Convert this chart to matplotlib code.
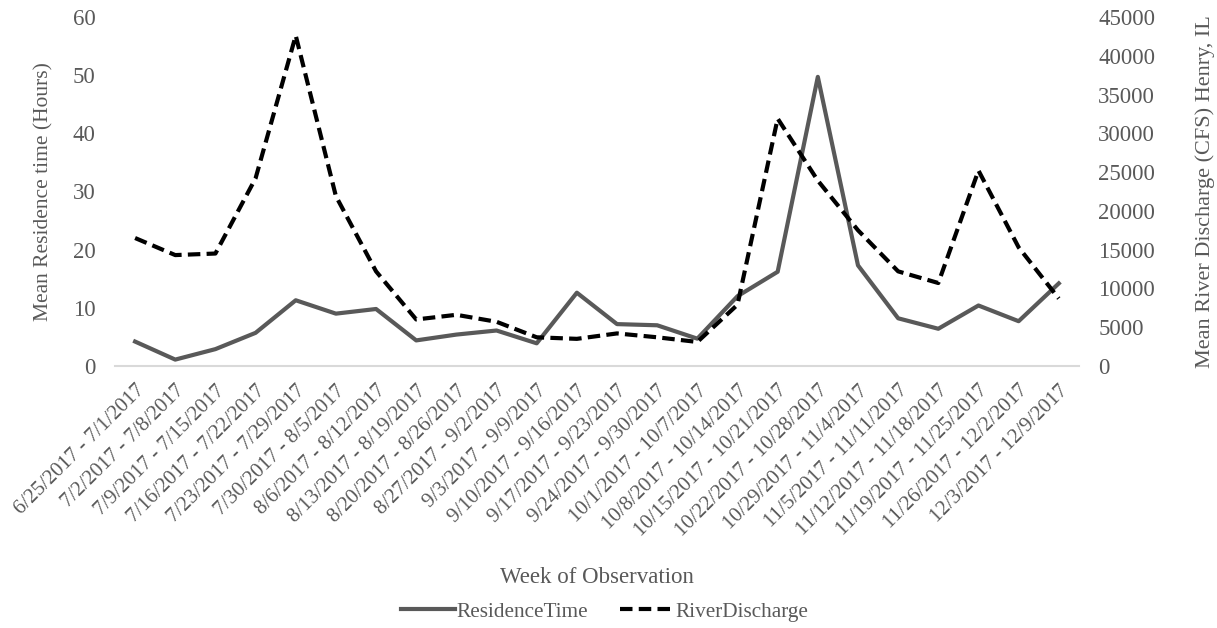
import matplotlib.pyplot as plt
import numpy as np

weeks = ['6/25/2017 - 7/1/2017', '7/2/2017 - 7/8/2017', '7/9/2017 - 7/15/2017',
         '7/16/2017 - 7/22/2017', '7/23/2017 - 7/29/2017', '7/30/2017 - 8/5/2017',
         '8/6/2017 - 8/12/2017', '8/13/2017 - 8/19/2017', '8/20/2017 - 8/26/2017',
         '8/27/2017 - 9/2/2017', '9/3/2017 - 9/9/2017', '9/10/2017 - 9/16/2017',
         '9/17/2017 - 9/23/2017', '9/24/2017 - 9/30/2017', '10/1/2017 - 10/7/2017',
         '10/8/2017 - 10/14/2017', '10/15/2017 - 10/21/2017', '10/22/2017 - 10/28/2017',
         '10/29/2017 - 11/4/2017', '11/5/2017 - 11/11/2017', '11/12/2017 - 11/18/2017',
         '11/19/2017 - 11/25/2017', '11/26/2017 - 12/2/2017', '12/3/2017 - 12/9/2017']

residence_time = [4.2, 1.1, 2.9, 5.7, 11.3, 9.0, 9.8, 4.4, 5.4, 6.1, 3.9, 12.6,
                  7.2, 7.0, 4.7, 12.0, 16.2, 49.7, 17.3, 8.2, 6.4, 10.4, 7.7, 14.2]
river_discharge = [16500, 14300, 14500, 24200, 42600, 21900, 12200, 6000, 6600, 5700,
                   3700, 3500, 4200, 3700, 3100, 7900, 31900, 23900, 17500, 12200,
                   10700, 25200, 15300, 8700]

gray = '#595959'
plt.rcParams['font.family'] = ['Liberation Serif', 'DejaVu Serif']

fig = plt.figure(figsize=(12.17, 6.28), dpi=100)
ax = fig.add_axes([0.0945, 0.4172, 0.792, 0.5558])
ax2 = ax.twinx()

x = np.arange(len(weeks))
l1, = ax.plot(x, residence_time, color=gray, linewidth=3, label='ResidenceTime')
l2, = ax2.plot(x, river_discharge, color='black', linewidth=3, linestyle=(0, (3, 1.5)),
               label='RiverDischarge')

ax.set_xlim(-0.5, len(weeks) - 0.5)
ax.set_ylim(0, 60)
ax2.set_ylim(0, 45000)
ax.set_yticks(range(0, 61, 10))
ax2.set_yticks(range(0, 45001, 5000))

ax.set_xticks(x)
ax.set_xticklabels(weeks, rotation=45, ha='right', rotation_mode='anchor')

for a in (ax, ax2):
    for s in a.spines.values():
        s.set_visible(False)
    a.tick_params(length=0, colors=gray, labelsize=16.5)
ax.spines['bottom'].set_visible(True)
ax.spines['bottom'].set_color('#d9d9d9')
ax.spines['bottom'].set_linewidth(1.5)
ax.tick_params(axis='x', pad=11, labelsize=15)
ax.tick_params(axis='y', pad=14)
ax2.tick_params(axis='y', pad=14)

ax.set_ylabel('Mean Residence time (Hours)', color=gray, fontsize=15.5, labelpad=14)
ax2.set_ylabel('Mean River Discharge (CFS) Henry, IL', color=gray, fontsize=16, labelpad=29)
fig.text(0.4905, 0.081, 'Week of Observation', color=gray, fontsize=16.5,
         ha='center', va='center')

leg = fig.legend(handles=[l1, l2], loc='center', bbox_to_anchor=(0.497, 0.0255), ncol=2,
                 frameon=False, fontsize=15.3, handlelength=2.5, columnspacing=1.5,
                 handletextpad=0.1)
for t in leg.get_texts():
    t.set_color(gray)

fig.savefig('out.png', dpi=100)
